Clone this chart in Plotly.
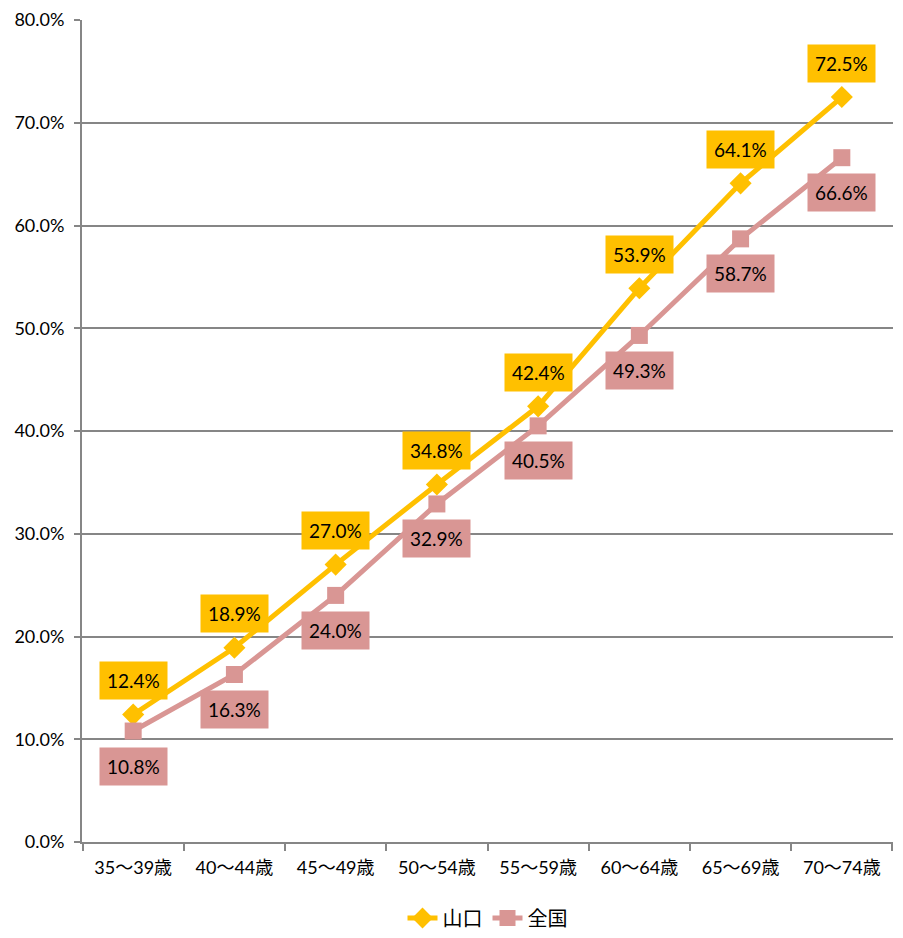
import plotly.graph_objects as go

# Age groups and rates (%)
categories = ["35～39歳", "40～44歳", "45～49歳", "50～54歳",
              "55～59歳", "60～64歳", "65～69歳", "70～74歳"]
yamaguchi = [12.4, 18.9, 27.0, 34.8, 42.4, 53.9, 64.1, 72.5]
national = [10.8, 16.3, 24.0, 32.9, 40.5, 49.3, 58.7, 66.6]

YELLOW = "#FFC000"
PINK = "#D99694"
FONT = "Lato, Noto Sans CJK JP"

fig = go.Figure()
fig.add_trace(go.Scatter(
    x=categories, y=yamaguchi, name="山口", mode="lines+markers",
    line=dict(color=YELLOW, width=5),
    marker=dict(symbol="diamond", size=17, color=YELLOW),
))
fig.add_trace(go.Scatter(
    x=categories, y=national, name="全国", mode="lines+markers",
    line=dict(color=PINK, width=5),
    marker=dict(symbol="square", size=17, color=PINK),
))

# Data labels as boxed annotations
for cat, v in zip(categories, yamaguchi):
    fig.add_annotation(x=cat, y=v, text=f"{v:.1f}%", showarrow=False,
                       yshift=34, bgcolor=YELLOW, borderpad=7,
                       font=dict(size=19, color="#000000", family=FONT))
for cat, v in zip(categories, national):
    fig.add_annotation(x=cat, y=v, text=f"{v:.1f}%", showarrow=False,
                       yshift=-35, bgcolor=PINK, borderpad=7,
                       font=dict(size=19, color="#000000", family=FONT))

# page body adds an 8px margin all round, so the figure is sized to fit inside
fig.update_layout(
    width=887, height=922,
    margin=dict(l=74, r=2, t=12, b=88),
    plot_bgcolor="white", paper_bgcolor="white",
    font=dict(family=FONT, size=18, color="#000000"),
    showlegend=True,
    legend=dict(orientation="h", x=0.5, xanchor="center",
                yref="container", y=0.013, yanchor="middle",
                font=dict(size=20)),
)
fig.update_xaxes(
    type="category", automargin=False, showline=True, linecolor="#868686", linewidth=2,
    ticks="outside", tickson="boundaries", ticklen=7, tickcolor="#868686", tickwidth=2,
    showgrid=False, tickfont=dict(size=18), ticklabelstandoff=8,
)
fig.update_yaxes(
    range=[0, 80], dtick=10, ticksuffix="%", tickformat=".1f", automargin=False,
    showline=True, linecolor="#868686", linewidth=2,
    ticks="outside", ticklen=6, tickcolor="#868686", tickwidth=2,
    showgrid=True, gridcolor="#868686", gridwidth=2, zeroline=False,
    tickfont=dict(size=18), ticklabelstandoff=6,
)

fig.write_html("out.html")
